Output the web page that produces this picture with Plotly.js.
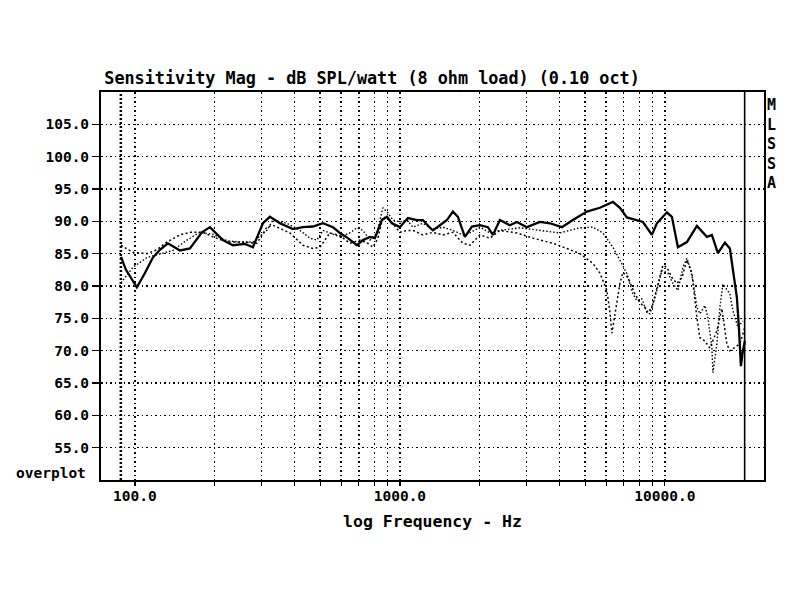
<!DOCTYPE html>
<html>
<head>
<meta charset="utf-8">
<script src="https://cdn.plot.ly/plotly-3.0.1.min.js"></script>
<style>
  html, body { margin: 0; padding: 0; background: #fff; }
  #chart { width: 800px; height: 600px; }
</style>
</head>
<body>
<div id="chart"></div>
<script>
// Data

// on-axis response, solid
const solidFreq = [
  88.6, 92.5, 101.7, 109.1, 116.9, 124.3, 133.2, 140.4, 147.9, 161.3,
  179.0, 191.9, 214.8, 234.3, 260.0, 278.8, 304.1, 323.1, 352.6, 394.8,
  430.6, 469.6, 512.2, 558.7, 593.7, 636.5, 688.3, 725.1, 770.6, 804.8,
  855.3, 893.3, 932.9, 1000, 1072, 1159, 1221, 1298, 1332, 1416,
  1505, 1585, 1655, 1759, 1870, 2004, 2148, 2243, 2384, 2600,
  2764, 3015, 3375, 3682, 4086, 4495, 5078, 5685, 6365, 6765,
  7189, 8261, 8933, 9329, 10175, 10627, 11196, 12107, 13206, 14406,
  15045, 15849, 16844, 17591, 18056, 18695, 19022, 19188, 19355, 19696,
  20040,
];
const solidDb = [
  84.5, 82.5, 79.8, 82.0, 84.4, 85.6, 86.6, 86.0, 85.5, 85.8,
  88.3, 89.1, 87.1, 86.3, 86.5, 86.0, 89.7, 90.7, 89.7, 88.8,
  89.1, 89.2, 89.7, 89.1, 88.2, 87.4, 86.3, 87.1, 87.6, 87.4,
  90.2, 90.7, 89.7, 89.1, 90.5, 90.2, 90.2, 89.0, 88.6, 89.4,
  90.2, 91.5, 90.7, 87.6, 89.2, 89.4, 89.1, 87.9, 90.2, 89.4,
  89.9, 89.1, 89.9, 89.7, 89.1, 90.2, 91.5, 92.1, 93.0, 92.1,
  90.6, 89.9, 87.9, 89.7, 91.4, 90.7, 86.0, 86.8, 89.3, 87.6,
  87.9, 85.1, 86.7, 85.8, 82.5, 78.2, 73.6, 70.0, 67.6, 70.0,
  71.5,
];

// first dotted overplot
const dotAFreq = [
  88.6, 98.3, 111.0, 121.1, 132.1, 147.9, 161.3, 180.6, 197.0, 222.4,
  255.5, 288.7, 314.8, 331.7, 384.6, 430.6, 469.6, 499.0, 544.3, 593.7,
  647.7, 706.4, 757.3, 791.0, 826.1, 862.8, 916.8, 1000, 1063, 1120,
  1221, 1332, 1453, 1585, 1730, 1837, 2004, 2186, 2384, 2764,
  3176, 3780, 4267, 4778, 5349, 5685, 6041, 6201, 6310, 6476,
  6765, 6943, 7251, 7706, 8048, 8407, 8628, 8933, 9411, 9827,
  10175, 10627, 11099, 11592, 12107, 12645, 13206, 13555, 14157, 14785,
  15711, 16410, 17139, 17591, 18372, 19188, 20040,
];
const dotADb = [
  86.3, 85.2, 85.0, 85.6, 86.8, 87.9, 88.3, 88.3, 87.6, 86.8,
  86.8, 86.6, 89.1, 89.4, 88.2, 86.3, 85.8, 86.0, 88.2, 87.8,
  86.6, 87.1, 86.6, 86.0, 87.4, 90.7, 90.2, 88.3, 88.6, 88.6,
  87.9, 88.3, 87.9, 88.3, 86.6, 86.3, 87.9, 87.4, 88.6, 88.2,
  87.4, 86.6, 85.8, 85.0, 83.5, 82.0, 79.3, 76.0, 72.7, 75.5,
  80.4, 82.1, 81.3, 78.8, 77.4, 76.7, 75.9, 76.7, 80.4, 83.2,
  82.9, 81.3, 80.4, 81.3, 84.0, 82.0, 75.1, 72.0, 71.5, 70.4,
  73.1, 76.5, 71.0, 70.0, 70.5, 71.1, 73.6,
];

// second dotted overplot
const dotBFreq = [
  88.6, 92.5, 98.3, 111.0, 124.3, 139.1, 157.1, 175.9, 197.0, 222.4,
  248.9, 278.8, 314.8, 331.7, 374.7, 419.5, 457.5, 486.2, 512.2, 558.7,
  593.7, 647.7, 688.3, 725.1, 770.6, 818.9, 862.8, 901.1, 941.1, 1000,
  1063, 1120, 1221, 1332, 1453, 1585, 1730, 1837, 2004, 2186,
  2384, 2837, 3375, 4015, 4778, 5349, 5835, 6365, 6765, 7189,
  7573, 7841, 8189, 8553, 8779, 9168, 9743, 10264, 10720, 11196,
  11694, 12107, 12427, 12755, 13206, 13555, 14157, 14532, 15045, 15176,
  15711, 16126, 16553, 17139, 17591, 18056, 18858, 19696,
];
const dotBDb = [
  80.5, 81.5, 82.9, 84.4, 85.0, 85.5, 87.1, 88.3, 88.0, 87.0,
  86.8, 86.8, 88.6, 90.2, 89.7, 88.6, 87.4, 87.1, 88.6, 88.0,
  87.6, 88.2, 89.0, 88.6, 87.1, 88.2, 92.1, 91.3, 90.2, 89.9,
  90.2, 89.1, 89.7, 88.8, 89.1, 88.6, 87.9, 88.2, 89.1, 88.2,
  88.6, 89.0, 88.6, 88.2, 89.0, 89.1, 88.2, 86.0, 84.0, 81.9,
  78.8, 77.7, 78.0, 75.9, 75.7, 78.2, 82.4, 82.0, 80.4, 79.3,
  82.9, 84.3, 82.9, 80.9, 76.7, 75.7, 77.0, 75.1, 70.5, 66.6,
  71.0, 76.7, 80.3, 79.5, 78.8, 76.2, 73.6, 74.6,
];

// frequency limit cursors
const cursorLowHz = 88.5;
const cursorHighHz = 20000;
const cursorDb = [50, 110];

// axes
const xTickVals = [
  100, 200, 300, 400, 500, 600, 700, 800, 900,
  1000, 2000, 3000, 4000, 5000, 6000, 7000, 8000, 9000, 10000,
];
const xTickText = [
  "100.0", "", "", "", "", "", "", "", "",
  "1000.0", "", "", "", "", "", "", "", "", "10000.0",
];
const yTickVals = [55, 60, 65, 70, 75, 80, 85, 90, 95, 100, 105];
const yTickText = yTickVals.map((v) => v.toFixed(1));

// Plot

const monoFont = { family: "DejaVu Sans Mono", color: "#000", size: 14.5, weight: "bold" };

const data = [
  {
    x: [cursorLowHz, cursorLowHz],
    y: cursorDb,
    type: "scatter",
    mode: "lines",
    line: { color: "#000", width: 2.5, dash: "2px,2px" },
    hoverinfo: "skip",
  },
  {
    x: [cursorHighHz, cursorHighHz],
    y: cursorDb,
    type: "scatter",
    mode: "lines",
    line: { color: "#000", width: 1.6 },
    hoverinfo: "skip",
  },
  {
    x: dotBFreq,
    y: dotBDb,
    type: "scatter",
    mode: "lines",
    line: { color: "#000", width: 1.4, dash: "1.5px,2px" },
  },
  {
    x: dotAFreq,
    y: dotADb,
    type: "scatter",
    mode: "lines",
    line: { color: "#000", width: 1.5, dash: "2px,2.5px" },
  },
  {
    x: solidFreq,
    y: solidDb,
    type: "scatter",
    mode: "lines",
    line: { color: "#000", width: 2.3 },
  },
];

const layout = {
  width: 800,
  height: 600,
  showlegend: false,
  paper_bgcolor: "#fff",
  plot_bgcolor: "#fff",
  margin: { l: 101, r: 36, t: 92, b: 120 },
  title: {
    text: "Sensitivity Mag - dB SPL/watt (8 ohm load) (0.10 oct)",
    font: { family: "DejaVu Sans Mono", color: "#000", size: 16.8, weight: "bold" },
    xref: "paper",
    x: 0.005,
    xanchor: "left",
    yref: "container",
    y: 0.87,
    yanchor: "middle",
  },
  xaxis: {
    type: "log",
    range: [1.872, 4.374],
    tickvals: xTickVals,
    ticktext: xTickText,
    ticks: "outside",
    ticklen: 4,
    tickwidth: 1.2,
    tickcolor: "#000",
    tickfont: monoFont,
    ticklabelstandoff: -2,
    showgrid: true,
    gridcolor: "#000",
    gridwidth: 1.3,
    griddash: "1.5px,3px",
    showline: true,
    linecolor: "#000",
    linewidth: 2,
    mirror: true,
    zeroline: false,
    title: {
      text: "log Frequency - Hz",
      font: { family: "DejaVu Sans Mono", color: "#000", size: 16.5, weight: "bold" },
      standoff: 12,
    },
  },
  yaxis: {
    range: [50, 110],
    tickvals: yTickVals,
    ticktext: yTickText,
    ticks: "outside",
    ticklen: 7,
    tickwidth: 1.2,
    tickcolor: "#000",
    tickfont: monoFont,
    showgrid: true,
    gridcolor: "#000",
    gridwidth: 1.3,
    griddash: "1.5px,3px",
    showline: true,
    linecolor: "#000",
    linewidth: 2,
    mirror: true,
    zeroline: false,
  },
  annotations: [
    {
      text: "overplot",
      xref: "paper",
      yref: "paper",
      x: -0.019,
      y: 0.018,
      xanchor: "right",
      yanchor: "middle",
      showarrow: false,
      font: { family: "DejaVu Sans Mono", color: "#000", size: 14.5, weight: "bold" },
    },
    {
      text: "M<br>L<br>S<br>S<br>A",
      xref: "paper",
      yref: "paper",
      x: 1.012,
      y: 0.995,
      xanchor: "center",
      yanchor: "top",
      showarrow: false,
      font: { family: "DejaVu Sans Mono", color: "#000", size: 15, weight: "bold" },
    },
  ],
};

Plotly.newPlot("chart", data, layout, {
  displayModeBar: false,
  responsive: false,
  staticPlot: true,
});
</script>
</body>
</html>
